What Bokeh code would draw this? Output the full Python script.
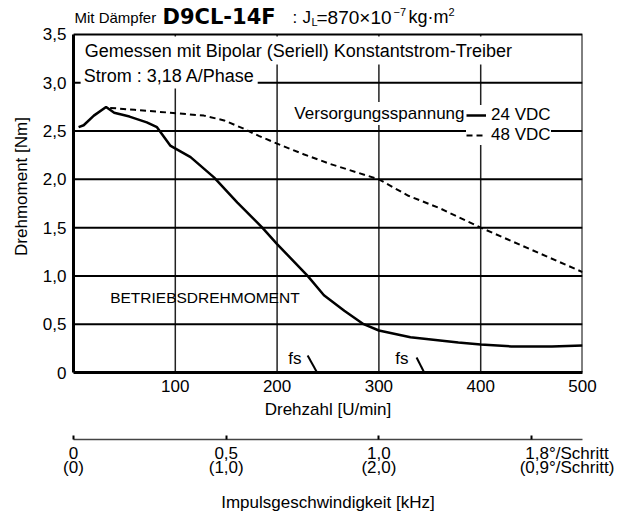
from bokeh.plotting import figure
from bokeh.models import (Range1d, LinearAxis, FixedTicker, Label, Legend, LegendItem)
from bokeh.embed import file_html
from bokeh.resources import INLINE

# ---------------- data ----------------
speed_24 = [5, 10, 20, 32, 40, 55, 72, 82, 95, 115, 138, 161, 185, 200, 230, 246, 266, 285, 300, 331, 378, 400, 430, 470, 500]
torque_24 = [2.54, 2.56, 2.66, 2.75, 2.69, 2.65, 2.59, 2.54, 2.35, 2.23, 2.02, 1.76, 1.505, 1.33, 1.00, 0.80, 0.64, 0.50, 0.435, 0.365, 0.31, 0.29, 0.27, 0.27, 0.28]

speed_48 = [36, 60, 95, 128, 148, 166, 182, 200, 226, 252, 279, 300, 329, 360, 400, 450, 500]
torque_48 = [2.74, 2.72, 2.69, 2.66, 2.61, 2.53, 2.45, 2.37, 2.26, 2.16, 2.07, 2.00, 1.83, 1.70, 1.50, 1.27, 1.04]

x_lim = [0, 500]
y_lim = [0, 3.5]
y_view_top = 3.852         # room above the diagram box for the heading
x_ticks = [100, 200, 300, 400, 500]
x_grid = [100, 200, 300, 400]
y_ticks = [0, 0.5, 1.0, 1.5, 2.0, 2.5, 3.0, 3.5]
y_tick_labels = ["0", "0,5", "1,0", "1,5", "2,0", "2,5", "3,0", "3,5"]
y_grid = [0.5, 1.0, 1.5, 2.0, 2.5, 3.0]

pulse_ticks = [0, 0.5, 1.0, 1.5]
NB = "\u00a0" * 15
pulse_unit_1 = "1,8°/Schritt"
pulse_unit_2 = "(0,9°/Schritt)"
pulse_labels = ["0\n(0)", "0,5\n(1,0)", "1,0\n(2,0)", NB + pulse_unit_1 + "\n" + NB + pulse_unit_2]
pulse_max_khz = 500 * 200 / 60 / 1000  # 500 U/min at 1.8°/Schritt

fs_speed = [[230, 238.7], [337, 344]]
fs_torque = [[0.176, 0.01], [0.155, 0.01]]
fs_label_speed = [211, 316]
fs_label_torque = [0.145, 0.145]

FONT = "Liberation Sans"

p = figure(width=621, height=515, x_range=Range1d(x_lim[0], x_lim[1]), y_range=Range1d(0, y_view_top),
           output_backend="svg", toolbar_location=None,
           min_border_left=73, min_border_right=39, min_border_top=0, min_border_bottom=143)
p.background_fill_color = "white"
p.border_fill_color = "white"
p.outline_line_color = None
p.xgrid.visible = False
p.ygrid.visible = False

# grid lines limited to the diagram box
p.segment(x0=x_grid, y0=[y_lim[0]] * len(x_grid), x1=x_grid, y1=[y_lim[1]] * len(x_grid),
          line_color="#222222", line_width=1.5, level="underlay")
p.segment(x0=[x_lim[0]] * len(y_grid), y0=y_grid, x1=[x_lim[1]] * len(y_grid), y1=y_grid,
          line_color="black", line_width=2, level="underlay")
# diagram box
p.quad(left=[x_lim[0]], right=[x_lim[1]], bottom=[y_lim[0]], top=[y_lim[1]],
       fill_color=None, line_color="black", line_width=2)

# primary x axis
xa = p.xaxis[0]
xa.ticker = FixedTicker(ticks=x_ticks)
xa.axis_line_width = 3
xa.major_tick_line_color = None
xa.minor_tick_line_color = None
xa.major_label_standoff = 1
xa.major_label_text_font = FONT
xa.major_label_text_font_size = "17px"
xa.major_label_text_color = "black"
xa.axis_label = "Drehzahl [U/min]"
xa.axis_label_text_font = FONT
xa.axis_label_text_font_size = "17px"
xa.axis_label_text_font_style = "normal"
xa.axis_label_standoff = 5
xa.axis_label_text_color = "black"

# y axis
ya = p.yaxis[0]
ya.ticker = FixedTicker(ticks=y_ticks)
ya.bounds = (y_lim[0], y_lim[1])
ya.major_label_overrides = {t: s for t, s in zip(y_ticks, y_tick_labels)}
ya.axis_line_width = 3
ya.major_tick_line_color = None
ya.minor_tick_line_color = None
ya.major_label_standoff = 1
ya.major_label_text_font = FONT
ya.major_label_text_font_size = "17px"
ya.major_label_text_color = "black"
ya.axis_label = "Drehmoment [Nm]"
ya.axis_label_text_font = FONT
ya.axis_label_text_font_size = "17px"
ya.axis_label_text_font_style = "normal"
ya.axis_label_standoff = 9
ya.axis_label_text_color = "black"

# secondary (pulse rate) axis
p.extra_x_ranges = {"khz": Range1d(0, pulse_max_khz)}
spacer = LinearAxis(x_range_name="khz", ticker=FixedTicker(ticks=[]),
                    axis_line_color=None, major_tick_line_color=None, minor_tick_line_color=None,
                    axis_label="x", axis_label_text_alpha=0, axis_label_text_font_size="12px",
                    axis_label_standoff=1)
p.add_layout(spacer, "below")

ka = LinearAxis(x_range_name="khz", ticker=FixedTicker(ticks=pulse_ticks))
ka.major_label_overrides = {t: s for t, s in zip(pulse_ticks, pulse_labels)}
ka.axis_line_color = "#444444"
ka.axis_line_width = 1.5
ka.major_tick_line_color = "black"
ka.major_tick_line_width = 2
ka.major_tick_in = 4
ka.major_tick_out = 0
ka.minor_tick_line_color = None
ka.major_label_standoff = 4
ka.major_label_text_font = FONT
ka.major_label_text_font_size = "17px"
ka.major_label_text_line_height = 0.75
ka.major_label_text_color = "black"
ka.axis_label = "Impulsgeschwindigkeit [kHz]"
ka.axis_label_text_font = FONT
ka.axis_label_text_font_size = "17px"
ka.axis_label_text_font_style = "normal"
ka.axis_label_standoff = 13
ka.axis_label_text_color = "black"
p.add_layout(ka, "below")

# curves
r24 = p.line(speed_24, torque_24, line_color="black", line_width=2.5)
r48 = p.line(speed_48, torque_48, line_color="black", line_width=2, line_dash="6 4")

# fs markers
p.multi_line(fs_speed, fs_torque, line_color="black", line_width=2)


def lab(x, y, text, size="17px", font=FONT, style="normal", align="left", bg=None, pad=0):
    kw = {}
    if bg:
        kw = dict(background_fill_color=bg, background_fill_alpha=1.0, padding=pad)
    l = Label(x=x, y=y, text=text, text_font=font, text_font_size=size, text_font_style=style,
              text_baseline="middle", text_align=align, text_color="black", **kw)
    p.add_layout(l)
    return l


for xs, ys in zip(fs_label_speed, fs_label_torque):
    lab(xs, ys, "fs")

lab(7, 3.334, "Gemessen mit Bipolar (Seriell) Konstantstrom-Treiber", size="18px", bg="white", pad=4)
lab(7, 3.075, "Strom : 3,18 A/Phase", size="18px", bg="white", pad=3)
lab(215, 2.682, "Versorgungsspannung", bg="white", pad=2)
lab(36, 0.777, "BETRIEBSDREHMOMENT", size="15.5px")

# heading chunks
lab(1, 3.676, "Mit Dämpfer", size="15px")
lab(87.4, 3.676, "D9CL-14F", size="21px", font="DejaVu Sans", style="bold")
lab(215.1, 3.676, ":", size="17px")
lab(225.0, 3.676, "J", size="17px")
lab(233.8, 3.625, "L", size="11px")
lab(238.7, 3.676, "=870×10", size="19px")
lab(314.3, 3.729, "−7", size="11px")
lab(329.1, 3.676, "kg·m", size="18px")
lab(368.4, 3.729, "2", size="11px")

legend = Legend(items=[LegendItem(label="24 VDC", renderers=[r24]),
                       LegendItem(label="48 VDC", renderers=[r48])],
                location=(393, 227), background_fill_color="white", background_fill_alpha=1.0,
                border_line_color=None, padding=2, margin=0, spacing=0,
                glyph_width=20, glyph_height=20, label_height=20, label_standoff=5,
                label_text_font=FONT, label_text_font_size="17px", label_text_color="black")
p.add_layout(legend)

open("out.html", "w").write(file_html(p, INLINE))
